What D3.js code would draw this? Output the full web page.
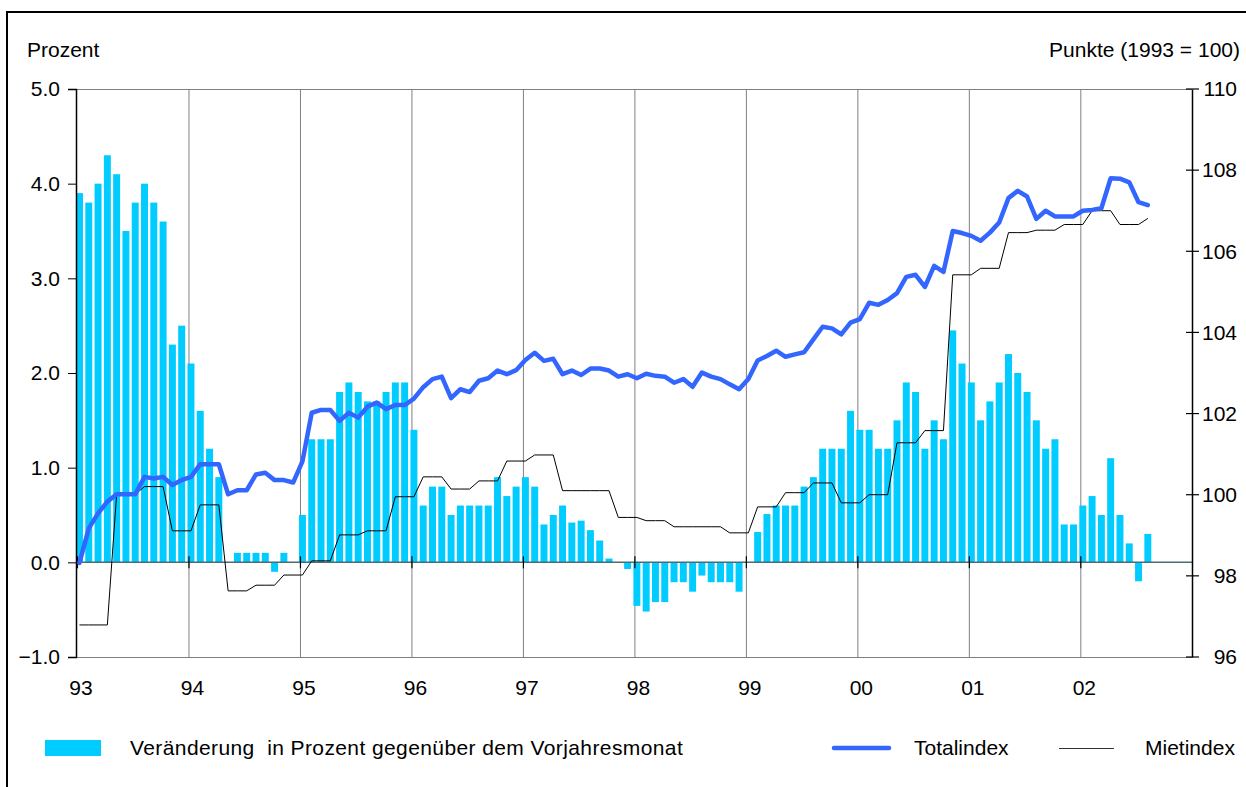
<!DOCTYPE html>
<html>
<head>
<meta charset="utf-8">
<script src="https://cdn.jsdelivr.net/npm/d3@7/dist/d3.min.js"></script>
<style>
  body { margin: 0; background: #fff; }
  text { font-family: "Liberation Sans", Arial, sans-serif; font-size: 21px; fill: #000; }
</style>
</head>
<body>
<svg id="chart" width="1246" height="787"></svg>
<script>
// year labels on the x axis (one per January)
const yearLabels = ["93", "94", "95", "96", "97", "98", "99", "00", "01", "02"]

// monthly change in % vs. same month of previous year, Jan 1993 .. Aug 2002
const changePct = [
  3.9, 3.8, 4.0, 4.3, 4.1, 3.5, 3.8, 4.0, 3.8, 3.6, 2.3, 2.5,
  2.1, 1.6, 1.2, 0.9, 0.0, 0.1, 0.1, 0.1, 0.1, -0.1, 0.1, 0.0,
  0.5, 1.3, 1.3, 1.3, 1.8, 1.9, 1.8, 1.7, 1.7, 1.8, 1.9, 1.9,
  1.4, 0.6, 0.8, 0.8, 0.5, 0.6, 0.6, 0.6, 0.6, 0.9, 0.7, 0.8,
  0.9, 0.8, 0.4, 0.5, 0.6, 0.42, 0.44, 0.34, 0.23, 0.04, 0.0, -0.07,
  -0.46, -0.52, -0.42, -0.42, -0.21, -0.21, -0.31, -0.14, -0.21, -0.21, -0.21, -0.31,
  0.0, 0.32, 0.51, 0.6, 0.6, 0.6, 0.8, 0.9, 1.2, 1.2, 1.2, 1.6,
  1.4, 1.4, 1.2, 1.2, 1.5, 1.9, 1.8, 1.2, 1.5, 1.3, 2.45, 2.1,
  1.9, 1.5, 1.7, 1.9, 2.2, 2.0, 1.8, 1.5, 1.2, 1.3, 0.4, 0.4,
  0.6, 0.7, 0.5, 1.1, 0.5, 0.2, -0.2, 0.3
]

// Totalindex, points (1993 = 100)
const totalIndex = [
  98.32, 99.17, 99.54, 99.83, 100.01, 100.01, 100.01, 100.44, 100.40, 100.44, 100.24, 100.36,
  100.44, 100.75, 100.75, 100.75, 100.01, 100.11, 100.11, 100.50, 100.54, 100.36, 100.36, 100.30,
  100.82, 102.02, 102.09, 102.09, 101.82, 102.02, 101.90, 102.17, 102.27, 102.11, 102.21, 102.21,
  102.37, 102.65, 102.85, 102.91, 102.38, 102.60, 102.53, 102.81, 102.87, 103.06, 102.97, 103.07,
  103.32, 103.50, 103.30, 103.35, 102.97, 103.06, 102.95, 103.11, 103.11, 103.06, 102.91, 102.97,
  102.87, 102.98, 102.93, 102.91, 102.76, 102.85, 102.66, 103.01, 102.91, 102.85, 102.72, 102.60,
  102.85, 103.31, 103.42, 103.55, 103.40, 103.46, 103.51, 103.83, 104.14, 104.10, 103.95, 104.24,
  104.33, 104.73, 104.68, 104.80, 104.97, 105.37, 105.42, 105.12, 105.64, 105.49, 106.50, 106.45,
  106.38, 106.26, 106.46, 106.71, 107.31, 107.49, 107.35, 106.80, 107.00, 106.86, 106.86, 106.86,
  107.00, 107.02, 107.06, 107.80, 107.79, 107.70, 107.21, 107.14
]

// Mietindex, points (1993 = 100)
const rentIndex = [
  96.79, 96.79, 96.79, 96.79, 100.01, 100.01, 100.01, 100.20, 100.20, 100.20, 99.11, 99.11,
  99.11, 99.75, 99.75, 99.75, 97.63, 97.63, 97.63, 97.77, 97.77, 97.77, 98.02, 98.02,
  98.02, 98.37, 98.37, 98.37, 99.01, 99.01, 99.01, 99.11, 99.11, 99.11, 99.95, 99.95,
  99.95, 100.44, 100.44, 100.44, 100.14, 100.14, 100.14, 100.34, 100.34, 100.34, 100.83, 100.83,
  100.83, 100.98, 100.98, 100.98, 100.10, 100.10, 100.10, 100.10, 100.10, 100.10, 99.44, 99.44,
  99.44, 99.36, 99.36, 99.36, 99.21, 99.21, 99.21, 99.21, 99.21, 99.21, 99.06, 99.06,
  99.06, 99.70, 99.70, 99.70, 100.05, 100.05, 100.05, 100.29, 100.29, 100.29, 99.80, 99.80,
  99.80, 100.00, 100.00, 100.00, 101.28, 101.28, 101.28, 101.58, 101.58, 101.58, 105.42, 105.42,
  105.42, 105.58, 105.58, 105.58, 106.46, 106.46, 106.46, 106.52, 106.52, 106.52, 106.66, 106.66,
  106.66, 107.00, 107.00, 107.00, 106.66, 106.66, 106.66, 106.81
]

const leftTicks = [-1, 0, 1, 2, 3, 4, 5]
const rightTicks = [96, 98, 100, 102, 104, 106, 108, 110]

const svg = d3.select('#chart')
const L = 76, R = 1192, T = 89, B = 657

// 120 monthly slots, Jan 1993 .. Dec 2002
let x = d3.scaleBand().domain(d3.range(120)).range([L, R])
          .paddingInner(0.25).paddingOuter(0.19).align(0)
let yL = d3.scaleLinear().domain([-1, 5]).range([B, T])
let yR = d3.scaleLinear().domain([96, 110]).range([B, T])
let mid = i => x(i) + x.bandwidth() / 2
let yearX = k => x(k * 12) + 1

// outer frame
svg.append('path').attr('d', `M7,787V12H1246`).attr('fill', 'none')
   .attr('stroke', '#000').attr('stroke-width', 2)

// frame lines and year gridlines
let grid = svg.append('g').attr('stroke', '#808080').attr('stroke-width', 1)
grid.append('line').attr('x1', L).attr('x2', R).attr('y1', T + 0.5).attr('y2', T + 0.5)
grid.append('line').attr('x1', L).attr('x2', R).attr('y1', B + 0.5).attr('y2', B + 0.5)
grid.selectAll('line.yr').data(d3.range(1, 10)).enter().append('line').attr('class', 'yr')
    .attr('x1', k => yearX(k) + 0.5).attr('x2', k => yearX(k) + 0.5)
    .attr('y1', T).attr('y2', B)

// bars
svg.append('g').selectAll('rect').data(changePct).enter().append('rect')
   .attr('x', (d, i) => x(i))
   .attr('width', x.bandwidth())
   .attr('y', d => yL(Math.max(0, d)))
   .attr('height', d => Math.abs(yL(d) - yL(0)))
   .attr('fill', '#00ccff')

// zero line with year ticks
svg.append('line').attr('x1', L).attr('x2', R).attr('y1', yL(0)).attr('y2', yL(0))
   .attr('stroke', '#4d6b73').attr('stroke-width', 1.5)
svg.append('g').selectAll('line').data(d3.range(0, 10)).enter().append('line')
   .attr('x1', k => yearX(k) + 0.5).attr('x2', k => yearX(k) + 0.5)
   .attr('y1', yL(0) - 6).attr('y2', yL(0) + 6)
   .attr('stroke', '#000').attr('stroke-width', 1.2)

// left axis
let axL = svg.append('g').attr('transform', `translate(${L},0)`)
axL.call(d3.axisLeft(yL).tickValues(d3.range(-1, 5.01, 0.2)).tickSize(4).tickFormat(''))
axL.call(d3.axisLeft(yL).tickValues(leftTicks).tickSize(8).tickPadding(8).tickFormat(d3.format('.1f')))
axL.selectAll('path.domain').attr('stroke', '#000').attr('stroke-width', 1.5)
axL.selectAll('text').style('font-size', '21px').style('font-family', '"Liberation Sans", Arial, sans-serif')
axL.selectAll('line').attr('stroke', '#000')

// right axis
let axR = svg.append('g').attr('transform', `translate(${R},0)`)
axR.call(d3.axisRight(yR).tickValues(d3.range(96, 110.01, 0.125)).tickSize(5).tickFormat(''))
axR.call(d3.axisRight(yR).tickValues(rightTicks).tickSize(0).tickFormat(d3.format('d')))
axR.selectAll('path.domain').attr('stroke', '#000').attr('stroke-width', 1.5)
axR.selectAll('text').attr('x', 45).attr('text-anchor', 'end')
   .style('font-size', '21px').style('font-family', '"Liberation Sans", Arial, sans-serif')
axR.selectAll('line').attr('stroke', '#000')
axR.selectAll('line.major').data(rightTicks).enter().append('line').attr('class', 'major')
   .attr('x1', -6).attr('x2', 7).attr('y1', d => yR(d)).attr('y2', d => yR(d))
   .attr('stroke', '#000').attr('stroke-width', 1.2)

// year labels
svg.append('g').selectAll('text').data(yearLabels).enter().append('text')
   .attr('x', (d, k) => yearX(k) + 4).attr('y', 695)
   .attr('text-anchor', 'middle').text(d => d)

// axis titles
svg.append('text').attr('x', 27).attr('y', 57).text('Prozent')
svg.append('text').attr('x', 1240).attr('y', 57).attr('text-anchor', 'end').text('Punkte (1993 = 100)')

// index lines
let lineR = d3.line().x((d, i) => mid(i)).y(d => yR(d))
svg.append('path').datum(rentIndex).attr('d', lineR)
   .attr('fill', 'none').attr('stroke', '#000').attr('stroke-width', 1)
svg.append('path').datum(totalIndex).attr('d', lineR)
   .attr('fill', 'none').attr('stroke', '#3366ff').attr('stroke-width', 4.5)
   .attr('stroke-linejoin', 'round').attr('stroke-linecap', 'round')

// legend
let lg = svg.append('g')
lg.append('rect').attr('x', 45).attr('y', 740).attr('width', 56).attr('height', 16).attr('fill', '#00ccff')
lg.append('text').attr('x', 130).attr('y', 755).style('white-space', 'pre').style('letter-spacing', '0.4px')
  .text('Veränderung  in Prozent gegenüber dem Vorjahresmonat')
lg.append('line').attr('x1', 834).attr('x2', 889).attr('y1', 748).attr('y2', 748)
  .attr('stroke', '#3366ff').attr('stroke-width', 4.5).attr('stroke-linecap', 'round')
lg.append('text').attr('x', 914).attr('y', 755).text('Totalindex')
lg.append('line').attr('x1', 1059).attr('x2', 1114).attr('y1', 748.5).attr('y2', 748.5)
  .attr('stroke', '#333').attr('stroke-width', 1)
lg.append('text').attr('x', 1145).attr('y', 755).text('Mietindex')
</script>
</body>
</html>
